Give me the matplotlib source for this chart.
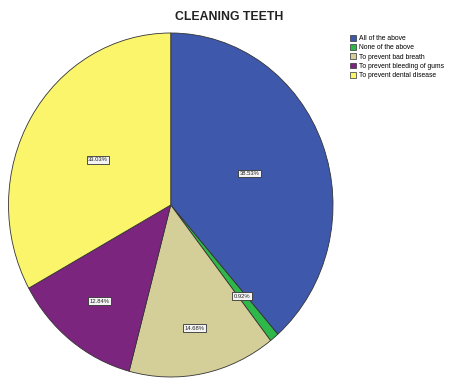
import numpy as np
import matplotlib.pyplot as plt

categories = ['All of the above', 'None of the above', 'To prevent bad breath',
              'To prevent bleeding of gums', 'To prevent dental disease']
percents = [38.53, 0.92, 14.68, 12.84, 33.03]
colors = ['#3e58ac', '#2fb84a', '#d4cf98', '#7b257e', '#fbf56c']
# how far out each percent label sits, as a fraction of the radius
label_r = [0.52, 0.69, 0.73, 0.71, 0.52]

plt.rcParams['font.family'] = ['Liberation Sans', 'DejaVu Sans']

fig = plt.figure(figsize=(4.5, 3.78), dpi=100)
W, H = 450, 378
ax = fig.add_axes([8.5 / W, 1 / H, 324.5 / W, 344 / H])

wedges, _ = ax.pie(percents, colors=colors, startangle=90, counterclock=False,
                   wedgeprops=dict(edgecolor='#333333', linewidth=0.6))
ax.set_aspect('auto')
ax.set_xlim(-1, 1)
ax.set_ylim(-1, 1)

cum = np.cumsum([0] + percents)
for i, p in enumerate(percents):
    mid = (cum[i] + p / 2) / 100 * 2 * np.pi
    x = label_r[i] * np.sin(mid)
    y = label_r[i] * np.cos(mid)
    ax.text(x, y, f'{p:.2f}%', fontsize=4.2, ha='center', va='center', color='#222222',
            bbox=dict(boxstyle='square,pad=0.25', facecolor='#f4f4f4',
                      edgecolor='#333333', linewidth=0.6))

fig.text(229.5 / W, 1 - 17 / H, 'CLEANING TEETH', ha='center', va='center',
         fontsize=8.8, fontweight='bold', color='#222222')

leg = fig.legend(wedges, categories, loc='upper left',
                 bbox_to_anchor=(350 / W, 1 - 35 / H), frameon=False,
                 fontsize=4.9, handlelength=0.95, handleheight=0.95,
                 handletextpad=0.35, labelspacing=0.28, borderpad=0, borderaxespad=0)
for h in leg.legend_handles:
    h.set_edgecolor('#333333')
    h.set_linewidth(0.5)

fig.savefig('out.png', dpi=100)
